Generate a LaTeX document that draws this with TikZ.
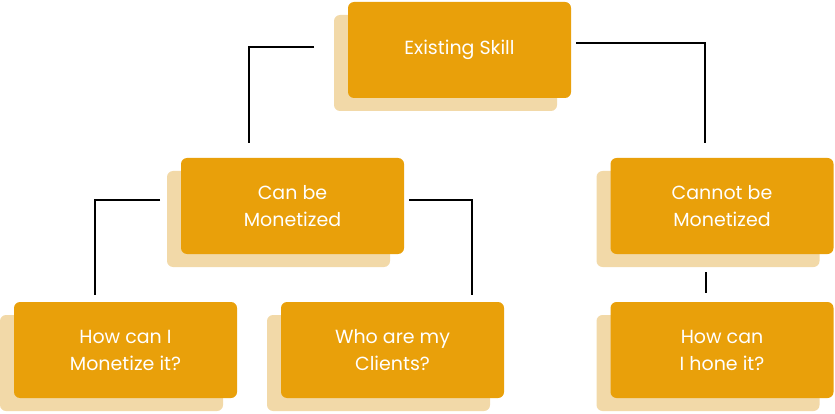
\documentclass[tikz,border=0pt]{standalone}
\usepackage{fontspec}
\setmainfont{Poppins}
\definecolor{front}{HTML}{E9A00A}
\definecolor{shade}{HTML}{F2D9A8}
\begin{document}
\begin{tikzpicture}[x=1pt,y=-1pt,
  fbox/.style={fill=front,rounded corners=6pt,minimum width=223pt,minimum height=96pt,text=white,font=\fontsize{19}{27}\selectfont,align=center,inner sep=0pt},
  sbox/.style={fill=shade,rounded corners=6pt,minimum width=223pt,minimum height=96pt,inner sep=0pt},
  conn/.style={draw=black,line width=1.2pt}]
\useasboundingbox (0,0) rectangle (835,414);
\newcommand\skbox[4]{%
  \node[sbox] (#1s) at (#2-14,#3+13) {};
  \node[fbox] (#1) at (#2,#3) {#4};}
\skbox{es}{459.5}{50}{Existing Skill}
\skbox{cm}{292.5}{206}{Can be\\Monetized}
\skbox{nm}{722}{206}{Cannot be\\Monetized}
\skbox{hm}{125.5}{350}{How can I\\Monetize it?}
\skbox{wc}{392.5}{350}{Who are my\\Clients?}
\skbox{hh}{722}{350}{How can\\I hone it?}
\coordinate (a1) at (314,47); \coordinate (a2) at (249,143);
\coordinate (b1) at (576,43); \coordinate (b2) at (705,143);
\coordinate (c1) at (160,200); \coordinate (c2) at (95,295);
\coordinate (d1) at (409,200); \coordinate (d2) at (472,295);
\coordinate (e1) at (706,272); \coordinate (e2) at (706,293);
\draw[conn] (a1) -| (a2);
\draw[conn] (b1) -| (b2);
\draw[conn] (c1) -| (c2);
\draw[conn] (d1) -| (d2);
\draw[conn] (e1) -- (e2);
\end{tikzpicture}
\end{document}
